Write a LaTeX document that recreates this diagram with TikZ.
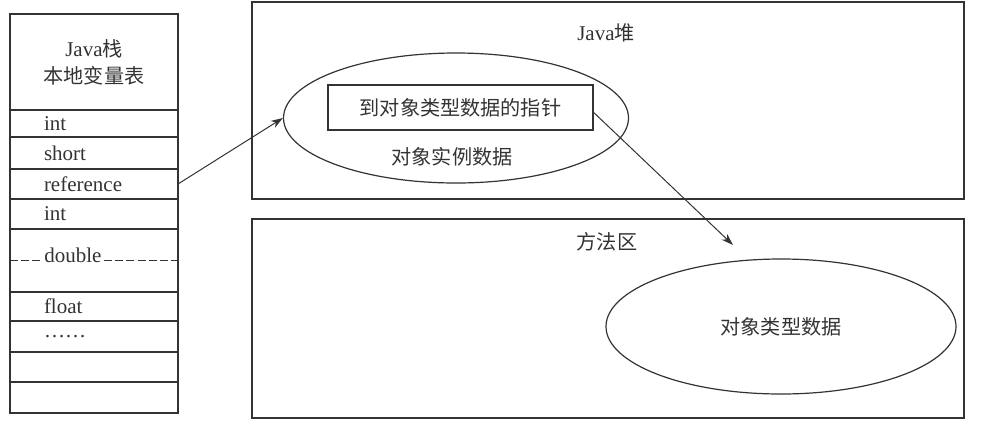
\documentclass[tikz,border=0pt]{standalone}
\usepackage{fontspec}
\setmainfont{Liberation Serif}
\newfontfamily\cjk[Scale=0.96]{Noto Sans CJK SC}
\usetikzlibrary{positioning, arrows.meta, shapes}

\begin{document}
\begin{tikzpicture}[
		x=0.5pt, y=-0.5pt,
		font=\fontsize{10.5}{12.5}\selectfont,
		every node/.style={text=black!80},
		cell/.style={rectangle, draw=black!80, line width=0.6pt, outer sep=0pt, inner xsep=17pt, inner ysep=0pt, text width=50pt, minimum height=15pt, align=left},
		area/.style={rectangle, draw=black!80, line width=0.7pt, minimum width=356pt},
		blob/.style={ellipse, draw=black!80, line width=0.6pt, inner sep=0pt},
		ptrbox/.style={rectangle, draw=black!80, line width=0.7pt, minimum width=132.5pt, minimum height=22.5pt},
		link/.style={-{Stealth[length=6pt, width=4pt]}, line width=0.5pt, draw=black!80},
		dashline/.style={draw=black!80, line width=0.6pt, dash pattern=on 4pt off 1.6pt}
	]
	\useasboundingbox (0,0) rectangle (984,429);

	% Java stack
	\node[cell, minimum height=48pt, inner xsep=7pt, text width=70pt, align=center] (head) at (94,62) {Java{\cjk 栈}\\[1pt]{\cjk 本地变量表}};
	\node[cell, minimum height=13.5pt, below=0pt of head] (c-int1) {int};
	\node[cell, minimum height=16pt, below=0pt of c-int1] (c-short) {short};
	\node[cell, below=0pt of c-short] (c-ref) {reference};
	\node[cell, below=0pt of c-ref] (c-int2) {int};
	\node[cell, minimum height=31.5pt, below=0pt of c-int2] (c-dbl) {};
	\node[cell, minimum height=14.5pt, below=0pt of c-dbl] (c-float) {float};
	\node[cell, minimum height=15.5pt, below=0pt of c-float] (c-dots) {……};
	\node[cell, below=0pt of c-dots] (c-free1) {};
	\node[cell, minimum height=15.5pt, below=0pt of c-free1] (c-free2) {};

	\node[anchor=base west, inner xsep=1pt, inner ysep=0pt] (t-dbl) at ([xshift=16pt, yshift=-1pt]c-dbl.west) {double};
	\draw[dashline] (c-dbl.west) -- (c-dbl.west -| t-dbl.west);
	\draw[dashline] (c-dbl.east -| t-dbl.east) -- (c-dbl.east);

	% Java heap
	\node[area, minimum height=98.5pt] (heap) at (608,100.5) {};
	\node (heaplbl) at (606,33) {Java{\cjk 堆}};
	\node[blob, minimum width=172.5pt, minimum height=65pt] (obj) at (456,118) {};
	\node[ptrbox] (ptr) at (460.5,107.5) {\cjk 到对象类型数据的指针};
	\node (objlbl) at (452,157) {\cjk 对象实例数据};

	% method area
	\node[area, minimum height=99.5pt] (method) at (608,318.5) {};
	\node (methlbl) at (607,242) {\cjk 方法区};
	\node[blob, minimum width=175pt, minimum height=67.5pt] (cls) at (781,326.5) {\cjk 对象类型数据};
	\coordinate (tip) at (733,245);

	\draw[link] (c-ref.east) -- (obj.west);
	\draw[link] ([yshift=-2.5pt]ptr.east) -- (tip);

\end{tikzpicture}
\end{document}
